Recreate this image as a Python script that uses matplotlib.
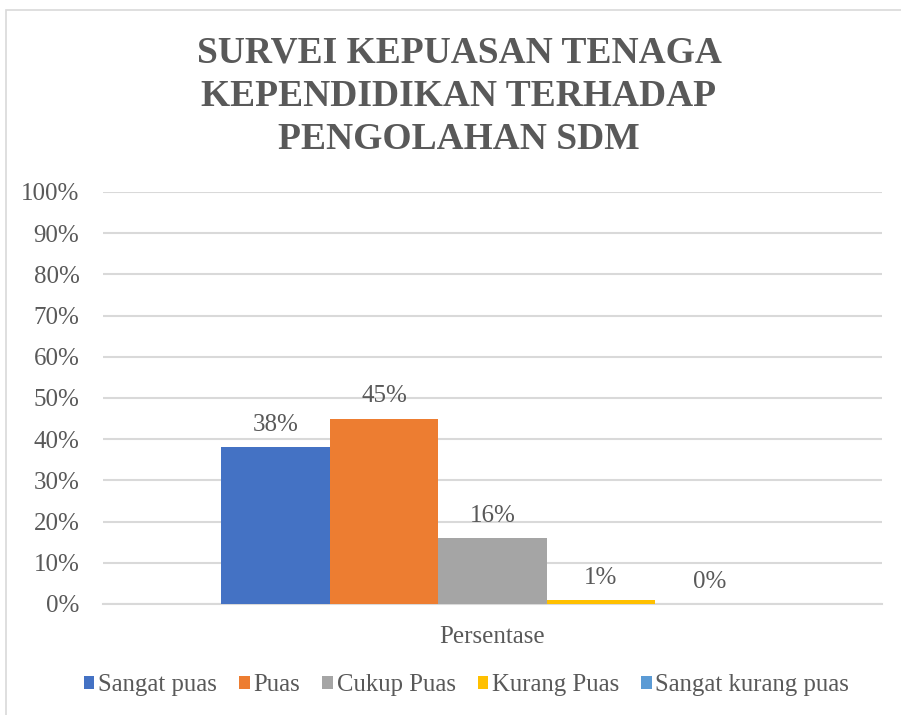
import matplotlib.pyplot as plt
from matplotlib.patches import Rectangle
from matplotlib.ticker import PercentFormatter

plt.rcParams['font.family'] = ['Liberation Serif', 'DejaVu Serif']

# data
category = "Persentase"
series = ["Sangat puas", "Puas", "Cukup Puas", "Kurang Puas", "Sangat kurang puas"]
values = [38, 45, 16, 1, 0]
colors = ["#4472C4", "#ED7D31", "#A5A5A5", "#FFC000", "#5B9BD5"]
title = "SURVEI KEPUASAN TENAGA\nKEPENDIDIKAN TERHADAP\nPENGOLAHAN SDM"

txt = "#595959"
grid = "#d9d9d9"

fig = plt.figure(figsize=(9.01, 7.15), dpi=100)
# chart border
fig.patches.append(Rectangle((6/901, -0.01), 1.0, (715-10)/715 + 0.01, transform=fig.transFigure,
                             fill=False, edgecolor=grid, linewidth=1.2))

ax = fig.add_axes([103/901, 111/715, 779/901, 412/715])
w = 108.5 / 779
for i, (name, v, c) in enumerate(zip(series, values, colors)):
    x = (i - 2) * w
    ax.bar(x, v, width=w, color=c, label=name, zorder=3)
    ax.annotate(f"{v}%", (x, v), xytext=(0, 8), textcoords="offset points",
                ha="center", va="bottom", fontsize=18, color=txt)

ax.set_xlim(-0.5, 0.5)
ax.set_ylim(0, 100)
ax.set_yticks(range(0, 101, 10))
ax.yaxis.set_major_formatter(PercentFormatter(decimals=0))
ax.set_xticks([0])
ax.set_xticklabels([category])
ax.tick_params(axis="both", length=0, labelsize=18, labelcolor=txt)
ax.tick_params(axis="x", pad=16)
ax.tick_params(axis="y", pad=17)
ax.grid(axis="y", color=grid, linewidth=1.5, zorder=0)
for s in ["top", "right", "left"]:
    ax.spines[s].set_visible(False)
ax.spines["bottom"].set_color(grid)
ax.spines["bottom"].set_linewidth(1.5)

fig.text(459/901, 1 - 96/715, title, ha="center", va="center", fontsize=27,
         fontweight="bold", color=txt, linespacing=1.3)

fig.legend(loc="center", bbox_to_anchor=(0.518, 30/715), ncol=5, frameon=False,
           fontsize=17.8, labelcolor=txt, handlelength=0.42, handleheight=0.42,
           handletextpad=0.15, columnspacing=0.9)

fig.savefig("out.png", dpi=100)
